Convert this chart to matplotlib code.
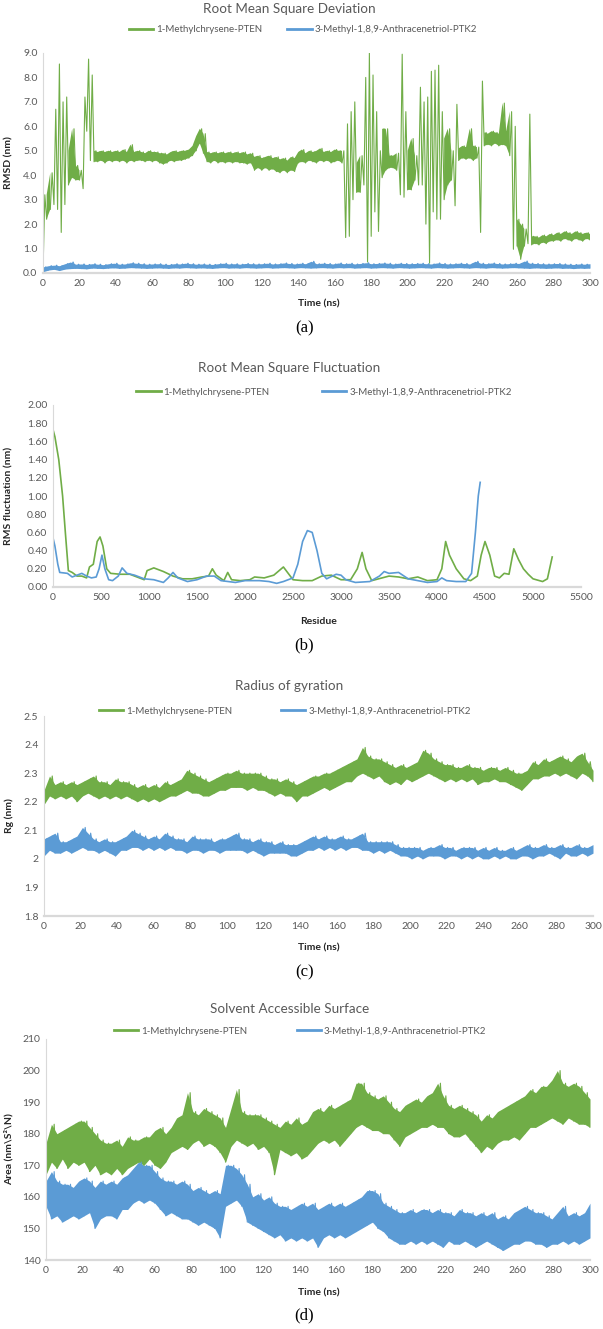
import numpy as np
import matplotlib
matplotlib.use('Agg')
from matplotlib import pyplot as plt

GREEN = '#70AD47'
BLUE = '#5B9BD5'
GREY = '#595959'
W, H = 603, 1329

plt.rcParams['font.family'] = ['Lato', 'DejaVu Sans']

LABEL_PTEN = '1-Methylchrysene-PTEN'
LABEL_PTK2 = '3-Methyl-1,8,9-Anthracenetriol-PTK2'

# (a) RMSD: lower / upper edge of the noisy trace, read every 2 ns (green) and 3 ns (blue)
t2 = np.arange(0, 301, 2)
t3 = np.arange(0, 301, 3)

rmsd_pten_hi = [3.2, 3.2, 4.1, 6.7, 8.55, 7.0, 7.2, 5.0, 5.9, 4.4,
                4.2, 7.2, 8.75, 8.1, 5.0, 4.95, 5.0, 4.95, 5.0, 4.95,
                5.0, 4.95, 5.05, 4.95, 5.25, 4.95, 5.0, 4.95, 4.9, 5.0,
                4.95, 4.95, 4.9, 4.9, 4.85, 4.95, 5.0, 4.95, 5.0, 5.0,
                5.05, 5.2, 5.6, 5.9, 5.7, 4.95, 4.9, 4.95, 4.9, 4.95,
                4.9, 4.95, 4.9, 4.95, 4.9, 4.95, 4.85, 4.9, 4.75, 4.8,
                4.7, 4.75, 4.8, 4.7, 4.75, 4.65, 4.7, 4.6, 4.75, 4.7,
                4.95, 5.05, 4.9, 5.0, 4.95, 5.0, 5.1, 4.95, 5.0, 4.95,
                5.05, 5.0, 5.0, 6.1, 6.6, 7.0, 4.5, 4.8, 8.0, 9.0,
                8.1, 6.6, 5.0, 5.9, 5.9, 4.8, 4.8, 4.9, 8.95, 6.6,
                5.0, 5.5, 4.8, 7.6, 7.0, 7.2, 8.25, 8.3, 8.5, 6.6,
                5.5, 5.9, 5.0, 6.9, 5.1, 5.2, 5.15, 5.9, 5.2, 5.15,
                7.85, 5.75, 5.7, 5.8, 5.75, 5.7, 6.95, 5.8, 6.6, 6.0,
                2.2, 2.0, 1.8, 6.5, 1.5, 1.5, 1.45, 1.55, 1.5, 1.6,
                1.55, 1.65, 1.6, 1.7, 1.65, 1.6, 1.7, 1.65, 1.6, 1.65,
                1.6]
rmsd_pten_lo = [0.0, 2.2, 2.6, 2.8, 2.6, 1.66, 2.8, 3.6, 3.9, 3.8,
                3.8, 3.45, 5.8, 4.6, 4.55, 4.55, 4.6, 4.5, 4.6, 4.55,
                4.6, 4.55, 4.6, 4.5, 4.6, 4.55, 4.6, 4.6, 4.55, 4.6,
                4.55, 4.6, 4.5, 4.45, 4.5, 4.6, 4.55, 4.6, 4.6, 4.65,
                4.7, 4.8, 5.0, 5.3, 4.9, 4.55, 4.5, 4.6, 4.5, 4.55,
                4.5, 4.55, 4.5, 4.55, 4.5, 4.5, 4.45, 4.5, 4.2, 4.3,
                4.2, 4.3, 4.2, 4.25, 4.15, 4.1, 4.2, 4.1, 4.2, 4.15,
                4.5, 4.55, 4.5, 4.6, 4.55, 4.5, 4.6, 4.55, 4.6, 4.5,
                4.55, 4.6, 4.5, 1.45, 1.5, 3.0, 3.3, 3.3, 3.6, 0.45,
                1.5, 2.5, 1.7, 3.9, 4.2, 4.3, 4.3, 4.2, 3.2, 3.1,
                3.4, 3.4, 3.8, 3.6, 3.6, 2.0, 0.4, 2.5, 2.2, 2.2,
                3.0, 3.6, 3.8, 2.75, 4.6, 4.7, 4.65, 4.7, 4.6, 4.7,
                1.66, 5.2, 5.25, 5.2, 5.3, 5.2, 5.25, 5.2, 4.8, 0.97,
                1.1, 0.56, 1.1, 1.2, 1.15, 1.2, 1.15, 1.25, 1.2, 1.3,
                1.3, 1.35, 1.3, 1.4, 1.35, 1.3, 1.4, 1.35, 1.3, 1.4,
                1.35]
rmsd_ptk2_hi = [0.25, 0.30, 0.32, 0.30, 0.38, 0.45, 0.36, 0.37, 0.35, 0.38,
                0.36, 0.34, 0.38, 0.40, 0.36, 0.37, 0.42, 0.40, 0.38, 0.36,
                0.37, 0.38, 0.36, 0.35, 0.38, 0.37, 0.40, 0.38, 0.36, 0.37,
                0.36, 0.35, 0.38, 0.40, 0.37, 0.38, 0.36, 0.39, 0.38, 0.37,
                0.38, 0.40, 0.37, 0.38, 0.41, 0.39, 0.37, 0.40, 0.38, 0.48,
                0.38, 0.40, 0.39, 0.37, 0.41, 0.38, 0.40, 0.37, 0.39, 0.42,
                0.38, 0.39, 0.41, 0.40, 0.37, 0.40, 0.39, 0.38, 0.39, 0.40,
                0.38, 0.37, 0.41, 0.39, 0.37, 0.38, 0.40, 0.39, 0.37, 0.48,
                0.40, 0.38, 0.41, 0.39, 0.37, 0.38, 0.40, 0.39, 0.49, 0.40,
                0.39, 0.38, 0.37, 0.38, 0.39, 0.37, 0.36, 0.35, 0.37, 0.36,
                0.38]
rmsd_ptk2_lo = [0.05, 0.12, 0.15, 0.10, 0.16, 0.18, 0.19, 0.18, 0.17, 0.20,
                0.19, 0.18, 0.20, 0.21, 0.19, 0.20, 0.22, 0.21, 0.20, 0.19,
                0.20, 0.21, 0.20, 0.19, 0.21, 0.20, 0.22, 0.21, 0.20, 0.21,
                0.20, 0.19, 0.21, 0.22, 0.20, 0.21, 0.20, 0.22, 0.21, 0.20,
                0.21, 0.22, 0.20, 0.21, 0.22, 0.21, 0.20, 0.22, 0.21, 0.20,
                0.21, 0.22, 0.21, 0.20, 0.22, 0.21, 0.22, 0.20, 0.21, 0.22,
                0.20, 0.21, 0.22, 0.21, 0.20, 0.22, 0.21, 0.20, 0.21, 0.22,
                0.21, 0.20, 0.22, 0.21, 0.20, 0.21, 0.22, 0.21, 0.20, 0.22,
                0.21, 0.20, 0.22, 0.21, 0.20, 0.21, 0.22, 0.21, 0.20, 0.19,
                0.21, 0.20, 0.19, 0.20, 0.21, 0.19, 0.20, 0.18, 0.20, 0.19,
                0.20]

# (b) RMSF
rmsf_pten_res = [0, 20, 60, 100, 130, 160, 200, 250, 300, 350, 380, 420, 460, 490,
                 520, 560, 600, 700, 800, 900, 950, 980, 1050, 1150, 1250, 1350,
                 1450, 1550, 1620, 1660, 1700, 1780, 1820, 1860, 1950, 2050, 2100,
                 2200, 2300, 2400, 2450, 2500, 2600, 2700, 2800, 2900, 3000, 3100,
                 3170, 3220, 3260, 3320, 3500, 3600, 3700, 3800, 3900, 4000, 4050,
                 4090, 4130, 4200, 4280, 4350, 4420, 4460, 4500, 4550, 4600, 4650,
                 4700, 4750, 4800, 4850, 4900, 4950, 5000, 5100, 5150, 5200]
rmsf_pten = [1.73, 1.65, 1.40, 1.00, 0.58, 0.18, 0.16, 0.12, 0.12, 0.10, 0.22, 0.25,
             0.50, 0.55, 0.45, 0.20, 0.15, 0.14, 0.14, 0.10, 0.08, 0.18, 0.21, 0.17,
             0.12, 0.09, 0.09, 0.11, 0.12, 0.20, 0.13, 0.07, 0.16, 0.08, 0.07, 0.08,
             0.11, 0.10, 0.13, 0.22, 0.15, 0.08, 0.07, 0.07, 0.12, 0.13, 0.08, 0.08,
             0.20, 0.38, 0.20, 0.07, 0.12, 0.11, 0.09, 0.11, 0.07, 0.08, 0.20, 0.50,
             0.35, 0.20, 0.09, 0.07, 0.12, 0.35, 0.50, 0.35, 0.12, 0.10, 0.15, 0.14,
             0.42, 0.30, 0.20, 0.14, 0.09, 0.06, 0.09, 0.33]
rmsf_ptk2_res = [0, 20, 50, 70, 150, 200, 250, 300, 350, 400, 450, 480, 510, 540,
                 580, 620, 680, 720, 770, 850, 950, 1050, 1150, 1200, 1250, 1300,
                 1400, 1500, 1600, 1680, 1750, 1900, 2000, 2150, 2250, 2330, 2400,
                 2500, 2550, 2600, 2650, 2700, 2750, 2800, 2850, 2950, 3000, 3050,
                 3150, 3300, 3400, 3450, 3500, 3600, 3700, 3800, 3900, 4000, 4050,
                 4100, 4200, 4300, 4360, 4400, 4430, 4450]
rmsf_ptk2 = [0.54, 0.45, 0.25, 0.16, 0.15, 0.11, 0.13, 0.15, 0.12, 0.10, 0.11, 0.20,
             0.35, 0.20, 0.08, 0.07, 0.12, 0.21, 0.15, 0.13, 0.09, 0.08, 0.05, 0.10,
             0.16, 0.10, 0.06, 0.08, 0.12, 0.12, 0.07, 0.05, 0.07, 0.07, 0.06, 0.04,
             0.06, 0.10, 0.25, 0.50, 0.62, 0.60, 0.40, 0.15, 0.09, 0.14, 0.13, 0.08,
             0.05, 0.06, 0.12, 0.17, 0.15, 0.16, 0.09, 0.07, 0.05, 0.06, 0.10, 0.07,
             0.06, 0.06, 0.15, 0.60, 1.00, 1.15]

# (c) Radius of gyration, lower / upper edge every 3 ns
rg_pten_lo = [2.19, 2.22, 2.21, 2.22, 2.21, 2.22, 2.20, 2.22, 2.23, 2.22,
              2.21, 2.22, 2.21, 2.22, 2.21, 2.22, 2.21, 2.20, 2.21, 2.20,
              2.21, 2.20, 2.21, 2.22, 2.22, 2.23, 2.24, 2.23, 2.23, 2.22,
              2.22, 2.23, 2.24, 2.24, 2.25, 2.25, 2.25, 2.24, 2.25, 2.24,
              2.24, 2.23, 2.22, 2.23, 2.22, 2.22, 2.20, 2.22, 2.22, 2.23,
              2.24, 2.25, 2.24, 2.25, 2.26, 2.27, 2.27, 2.29, 2.30, 2.29,
              2.28, 2.29, 2.27, 2.26, 2.27, 2.26, 2.28, 2.27, 2.28, 2.29,
              2.30, 2.29, 2.28, 2.27, 2.28, 2.27, 2.28, 2.27, 2.28, 2.26,
              2.27, 2.27, 2.28, 2.27, 2.27, 2.26, 2.25, 2.24, 2.26, 2.28,
              2.28, 2.29, 2.29, 2.30, 2.29, 2.30, 2.29, 2.28, 2.30, 2.29,
              2.27]
rg_pten_hi = [2.24, 2.29, 2.26, 2.27, 2.26, 2.27, 2.26, 2.27, 2.28, 2.29,
              2.27, 2.27, 2.26, 2.28, 2.27, 2.27, 2.26, 2.25, 2.26, 2.25,
              2.26, 2.25, 2.27, 2.26, 2.27, 2.28, 2.31, 2.30, 2.29, 2.28,
              2.27, 2.28, 2.29, 2.30, 2.30, 2.31, 2.30, 2.30, 2.30, 2.30,
              2.29, 2.28, 2.28, 2.27, 2.28, 2.27, 2.26, 2.27, 2.28, 2.29,
              2.29, 2.30, 2.30, 2.31, 2.32, 2.33, 2.34, 2.35, 2.39, 2.36,
              2.35, 2.35, 2.34, 2.33, 2.32, 2.33, 2.32, 2.33, 2.34, 2.38,
              2.37, 2.35, 2.34, 2.33, 2.33, 2.32, 2.32, 2.33, 2.32, 2.32,
              2.31, 2.32, 2.32, 2.31, 2.32, 2.31, 2.30, 2.30, 2.31, 2.34,
              2.33, 2.35, 2.34, 2.35, 2.36, 2.35, 2.34, 2.36, 2.37, 2.34,
              2.31]
rg_ptk2_lo = [2.01, 2.03, 2.02, 2.02, 2.03, 2.02, 2.03, 2.04, 2.03, 2.03,
              2.02, 2.03, 2.02, 2.01, 2.03, 2.03, 2.04, 2.04, 2.03, 2.04,
              2.03, 2.04, 2.03, 2.04, 2.03, 2.03, 2.02, 2.03, 2.03, 2.02,
              2.03, 2.03, 2.02, 2.03, 2.03, 2.03, 2.03, 2.02, 2.03, 2.02,
              2.01, 2.02, 2.02, 2.02, 2.02, 2.01, 2.01, 2.02, 2.03, 2.03,
              2.04, 2.03, 2.04, 2.03, 2.04, 2.03, 2.04, 2.04, 2.03, 2.03,
              2.02, 2.03, 2.02, 2.03, 2.02, 2.01, 2.01, 2.00, 2.01, 2.00,
              2.01, 2.01, 2.01, 2.00, 2.01, 2.01, 2.00, 2.01, 2.00, 2.01,
              2.00, 2.00, 2.01, 2.00, 2.01, 2.00, 2.00, 2.01, 2.01, 2.00,
              2.01, 2.01, 2.02, 2.01, 2.00, 2.02, 2.01, 2.01, 2.02, 2.01,
              2.02]
rg_ptk2_hi = [2.07, 2.08, 2.09, 2.06, 2.06, 2.07, 2.08, 2.11, 2.09, 2.07,
              2.06, 2.07, 2.06, 2.06, 2.07, 2.08, 2.10, 2.09, 2.08, 2.07,
              2.08, 2.07, 2.09, 2.08, 2.07, 2.07, 2.06, 2.08, 2.07, 2.07,
              2.07, 2.06, 2.07, 2.07, 2.08, 2.09, 2.07, 2.07, 2.06, 2.07,
              2.06, 2.06, 2.05, 2.06, 2.05, 2.05, 2.05, 2.06, 2.07, 2.08,
              2.07, 2.08, 2.07, 2.07, 2.08, 2.07, 2.07, 2.08, 2.09, 2.06,
              2.06, 2.06, 2.06, 2.06, 2.05, 2.04, 2.04, 2.04, 2.04, 2.03,
              2.04, 2.04, 2.05, 2.04, 2.04, 2.03, 2.04, 2.04, 2.04, 2.03,
              2.04, 2.03, 2.04, 2.03, 2.03, 2.04, 2.03, 2.04, 2.05, 2.04,
              2.04, 2.05, 2.04, 2.04, 2.05, 2.04, 2.04, 2.05, 2.04, 2.04,
              2.05]

# (d) Solvent accessible surface, lower / upper edge every 3 ns
sas_pten_lo = [167, 171, 169, 172, 169, 171, 170, 171, 168, 170,
               167, 168, 167, 169, 167, 169, 170, 171, 170, 172,
               170, 169, 171, 174, 175, 176, 175, 177, 178, 176,
               177, 176, 174, 171, 176, 178, 177, 176, 177, 175,
               176, 174, 167, 175, 174, 173, 174, 172, 173, 175,
               177, 178, 177, 178, 176, 178, 180, 182, 183, 182,
               181, 181, 180, 180, 178, 176, 179, 180, 181, 182,
               182, 183, 182, 182, 180, 179, 179, 180, 178, 176,
               174, 176, 175, 177, 178, 178, 179, 178, 180, 182,
               182, 183, 184, 185, 184, 183, 185, 184, 183, 183,
               182]
sas_pten_hi = [177, 183, 180, 181, 182, 183, 184, 184, 182, 180,
               178, 177, 177, 178, 176, 179, 178, 178, 179, 179,
               181, 182, 180, 182, 185, 186, 193, 187, 186, 188,
               187, 186, 185, 182, 188, 194, 187, 186, 186, 186,
               185, 184, 183, 182, 184, 183, 185, 183, 184, 187,
               188, 187, 189, 188, 189, 190, 191, 196, 196, 193,
               192, 191, 192, 190, 188, 187, 189, 190, 191, 190,
               192, 193, 196, 192, 189, 188, 189, 188, 187, 186,
               184, 186, 185, 187, 188, 189, 190, 191, 192, 194,
               193, 195, 195, 197, 200, 196, 195, 196, 195, 193,
               191]
sas_ptk2_lo = [157, 153, 154, 152, 153, 154, 153, 154, 155, 150,
               153, 154, 154, 153, 156, 156, 158, 159, 158, 159,
               158, 156, 154, 155, 154, 153, 153, 152, 151, 152,
               151, 150, 147, 157, 158, 159, 157, 152, 151, 150,
               149, 148, 147, 148, 146, 147, 146, 147, 146, 147,
               144, 147, 148, 147, 148, 147, 148, 149, 150, 151,
               152, 150, 149, 147, 146, 145, 145, 146, 145, 146,
               145, 146, 145, 144, 146, 145, 145, 146, 145, 144,
               145, 146, 145, 144, 143, 144, 145, 145, 146, 146,
               145, 145, 144, 145, 145, 146, 145, 146, 145, 146,
               147]
sas_ptk2_hi = [165, 168, 165, 164, 164, 163, 165, 166, 165, 163,
               165, 164, 165, 164, 166, 167, 169, 171, 170, 170,
               168, 166, 165, 165, 164, 165, 164, 162, 163, 162,
               161, 162, 161, 170, 170, 169, 167, 164, 160, 161,
               159, 160, 158, 157, 157, 156, 157, 158, 157, 158,
               156, 157, 158, 157, 158, 157, 158, 159, 160, 162,
               162, 161, 158, 157, 156, 155, 155, 156, 155, 156,
               156, 155, 156, 155, 155, 154, 156, 155, 155, 154,
               155, 154, 155, 153, 154, 153, 155, 156, 157, 156,
               155, 155, 154, 153, 155, 157, 154, 155, 154, 155,
               158]


def zigzag(t, lo, hi):
    # alternate the lower and upper edges so the trace reads as a noisy band
    t = np.asarray(t, float)
    step = t[1] - t[0]
    x = np.empty(2 * len(t))
    y = np.empty(2 * len(t))
    x[0::2] = t
    x[1::2] = t + step / 2
    y[0::2] = lo
    y[1::2] = hi
    return x, y


def noisy(ax, t, lo, hi, color, label, max_fill=None):
    lo = np.asarray(lo, float)
    hi = np.asarray(hi, float)
    x, y = zigzag(t, lo, hi)
    ax.plot(x, y, color=color, lw=0.8, label=label)
    where = None if max_fill is None else (hi - lo) <= max_fill
    ax.fill_between(t, lo, hi, where=where, color=color, lw=0)


def px_axes(fig, l, r, t, b):
    return fig.add_axes([l / W, 1 - b / H, (r - l) / W, (b - t) / H])


def style(ax):
    for s in ['top', 'right']:
        ax.spines[s].set_visible(False)
    ax.spines['left'].set_color('#D9D9D9')
    ax.spines['left'].set_linewidth(0.8)
    ax.spines['bottom'].set_color('#D9D9D9')
    ax.spines['bottom'].set_linewidth(1.6)
    ax.tick_params(length=0, colors=GREY, labelsize=7.5, pad=4)


def decorate(fig, ax, title, ty, lx, ly, colsp, xlabel, xly, ylabel, caption, cy):
    fig.text(0.48, 1 - ty / H, title, ha='center', va='center', fontsize=9.7, color=GREY)
    leg = ax.legend(loc='center', bbox_to_anchor=(lx / W, 1 - ly / H),
                    bbox_transform=fig.transFigure, ncol=2, frameon=False, fontsize=7.0,
                    handlelength=2.5, handletextpad=0.3, columnspacing=colsp,
                    labelcolor=GREY)
    for line in leg.get_lines():
        line.set_linewidth(2)
    fig.text(319 / W, 1 - xly / H, xlabel, ha='center', va='center', fontsize=7.5,
             fontweight='bold', color='#262626')
    pos = ax.get_position()
    fig.text(9 / W, pos.y0 + pos.height / 2, ylabel, ha='center', va='center', rotation=90,
             fontsize=7.5, fontweight='bold', color='#262626')
    fig.text(0.505, 1 - cy / H, caption, ha='center', va='center', fontsize=12,
             family='Liberation Serif', color='black')


fig = plt.figure(figsize=(W / 100, H / 100), dpi=100)

# (a)
ax = px_axes(fig, 43, 590, 53, 273)
noisy(ax, t2, rmsd_pten_lo, rmsd_pten_hi, GREEN, LABEL_PTEN, max_fill=2.6)
noisy(ax, t3, rmsd_ptk2_lo, rmsd_ptk2_hi, BLUE, LABEL_PTK2)
ax.set_xlim(0, 300)
ax.set_ylim(0, 9)
ax.set_xticks(np.arange(0, 301, 20))
ax.set_yticks(np.arange(0, 9.1, 1))
ax.set_yticklabels(['%.1f' % v for v in np.arange(0, 9.1, 1)])
style(ax)
decorate(fig, ax, 'Root Mean Square Deviation', 9, 303, 30, 2.6, 'Time (ns)', 304,
         'RMSD (nm)', '(a)', 328)

# (b)
ax = px_axes(fig, 53, 581, 405, 587)
ax.plot(rmsf_pten_res, rmsf_pten, color=GREEN, lw=1.2, label=LABEL_PTEN)
ax.plot(rmsf_ptk2_res, rmsf_ptk2, color=BLUE, lw=1.2, label=LABEL_PTK2)
ax.set_xlim(0, 5500)
ax.set_ylim(0, 2)
ax.set_xticks(np.arange(0, 5501, 500))
ax.set_yticks(np.arange(0, 2.01, 0.2))
ax.set_yticklabels(['%.2f' % v for v in np.arange(0, 2.01, 0.2)])
style(ax)
decorate(fig, ax, 'Root Mean Square Fluctuation', 368, 324, 392, 5.4, 'Residue', 622,
         'RMS fluctuation (nm)', '(b)', 645)

# (c)
ax = px_axes(fig, 44, 593, 716, 916)
noisy(ax, t3, rg_pten_lo, rg_pten_hi, GREEN, LABEL_PTEN)
noisy(ax, t3, rg_ptk2_lo, rg_ptk2_hi, BLUE, LABEL_PTK2)
ax.set_xlim(0, 300)
ax.set_ylim(1.8, 2.5)
ax.set_xticks(np.arange(0, 301, 20))
ax.set_yticks([1.8, 1.9, 2.0, 2.1, 2.2, 2.3, 2.4, 2.5])
ax.set_yticklabels(['1.8', '1.9', '2', '2.1', '2.2', '2.3', '2.4', '2.5'])
style(ax)
decorate(fig, ax, 'Radius of gyration', 686, 285, 711, 5.0, 'Time (ns)', 948,
         'Rg (nm)', '(c)', 972)

# (d)
ax = px_axes(fig, 46, 590, 1039, 1260)
noisy(ax, t3, sas_pten_lo, sas_pten_hi, GREEN, LABEL_PTEN)
noisy(ax, t3, sas_ptk2_lo, sas_ptk2_hi, BLUE, LABEL_PTK2)
ax.set_xlim(0, 300)
ax.set_ylim(140, 210)
ax.set_xticks(np.arange(0, 301, 20))
ax.set_yticks(np.arange(140, 211, 10))
style(ax)
decorate(fig, ax, 'Solvent Accessible Surface', 1009, 300, 1031, 5.1, 'Time (ns)', 1293,
         'Area (nm\\S\u00b2\\N)', '(d)', 1315)

fig.savefig('out.png', dpi=100)
